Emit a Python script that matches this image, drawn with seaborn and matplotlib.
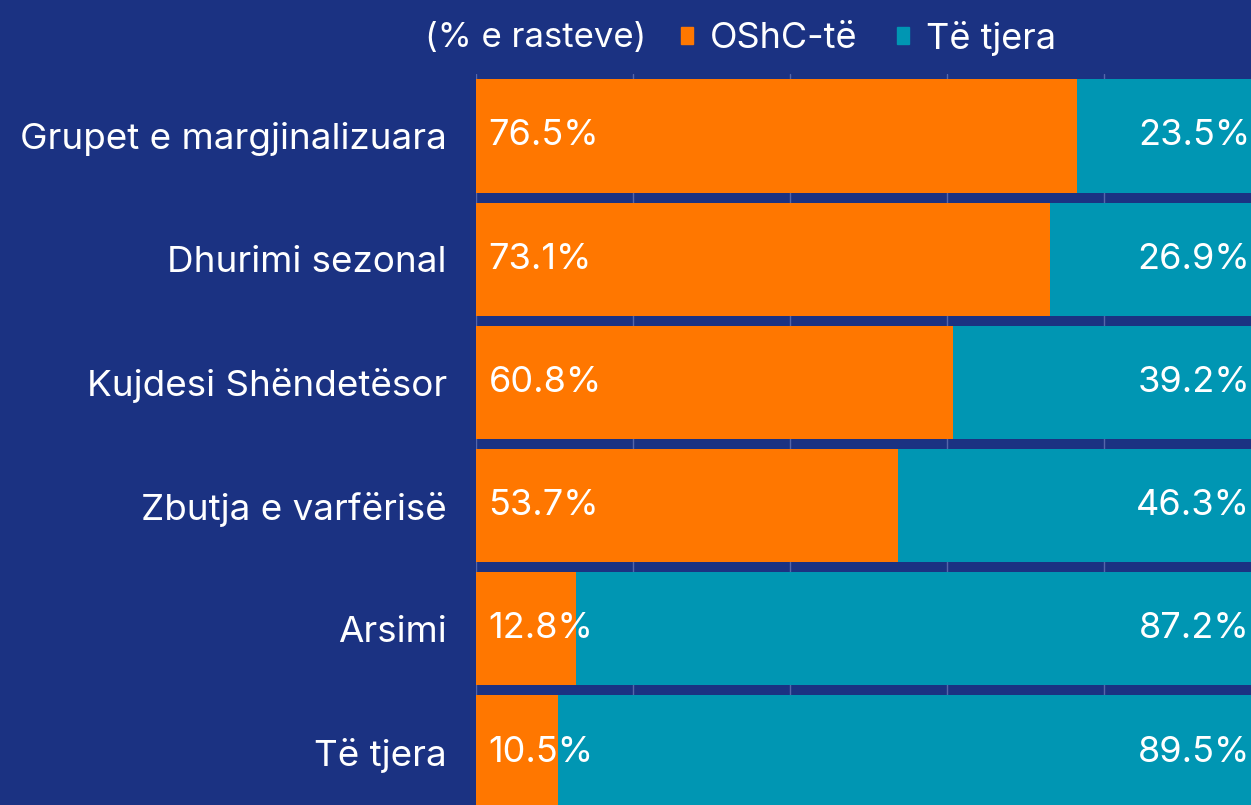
import pandas as pd
import seaborn as sns
import matplotlib.pyplot as plt
from matplotlib.patches import Patch

# Data
categories = [
    "Grupet e margjinalizuara",
    "Dhurimi sezonal",
    "Kujdesi Shëndetësor",
    "Zbutja e varfërisë",
    "Arsimi",
    "Të tjera",
]
oshc = [76.5, 73.1, 60.8, 53.7, 12.8, 10.5]
others = [23.5, 26.9, 39.2, 46.3, 87.2, 89.5]

BG = "#1b3282"
ORANGE = "#ff7700"
TEAL = "#0096b3"

data = pd.DataFrame({"category": categories, "oshc": oshc, "others": others})
data["total"] = data["oshc"] + data["others"]

sns.set_style("white")
plt.rcParams["font.family"] = ["Inter", "DejaVu Sans"]

fig = plt.figure(figsize=(12.51, 8.05), dpi=100, facecolor=BG)
# the plot area runs slightly past the right edge of the figure
ax = fig.add_axes([476 / 1251, 0, 785 / 1251, 1 - 74 / 805])
ax.set_facecolor(BG)

# Stacked bars: full width in teal, OShC share in orange on top
sns.barplot(data, x="total", y="category", color=TEAL, width=0.92,
            saturation=1, linewidth=0, ax=ax, zorder=2)
sns.barplot(data, x="oshc", y="category", color=ORANGE, width=0.92,
            saturation=1, linewidth=0, ax=ax, zorder=3)

for i, row in data.iterrows():
    ax.text(1.6, i, f"{row['oshc']:.1f}%", color="white", fontsize=26,
            va="center", ha="left", zorder=5)
    ax.text(98.6, i, f"{row['others']:.1f}%", color="white", fontsize=26,
            va="center", ha="right", zorder=5)

ax.set_xlim(0, 100)
ax.set_ylim(5.43, -0.503)
ax.set_xticks([0, 20, 40, 60, 80, 100])
ax.xaxis.grid(True, color="#5566aa", linewidth=1, zorder=0)
ax.set_axisbelow(True)
ax.tick_params(axis="x", length=0, labelbottom=False)
ax.tick_params(axis="y", length=0, pad=21, labelsize=26.5, labelcolor="white")
ax.set(xlabel=None, ylabel=None)
for s in ax.spines.values():
    s.set_visible(False)

fig.text(425 / 1251, 1 - 38 / 805, "(% e rasteve)", color="white",
         fontsize=25, va="center", ha="left")
handles = [Patch(color=ORANGE, label="OShC-të"), Patch(color=TEAL, label="Të tjera")]
fig.legend(handles=handles, ncol=2, loc="center left",
           bbox_to_anchor=(648 / 1251, 1 - 38 / 805), frameon=False,
           fontsize=26, labelcolor="white", handlelength=0.35,
           handleheight=0.35, handletextpad=0.45, columnspacing=1.1)

plt.savefig("out.png", dpi=100, facecolor=BG)
